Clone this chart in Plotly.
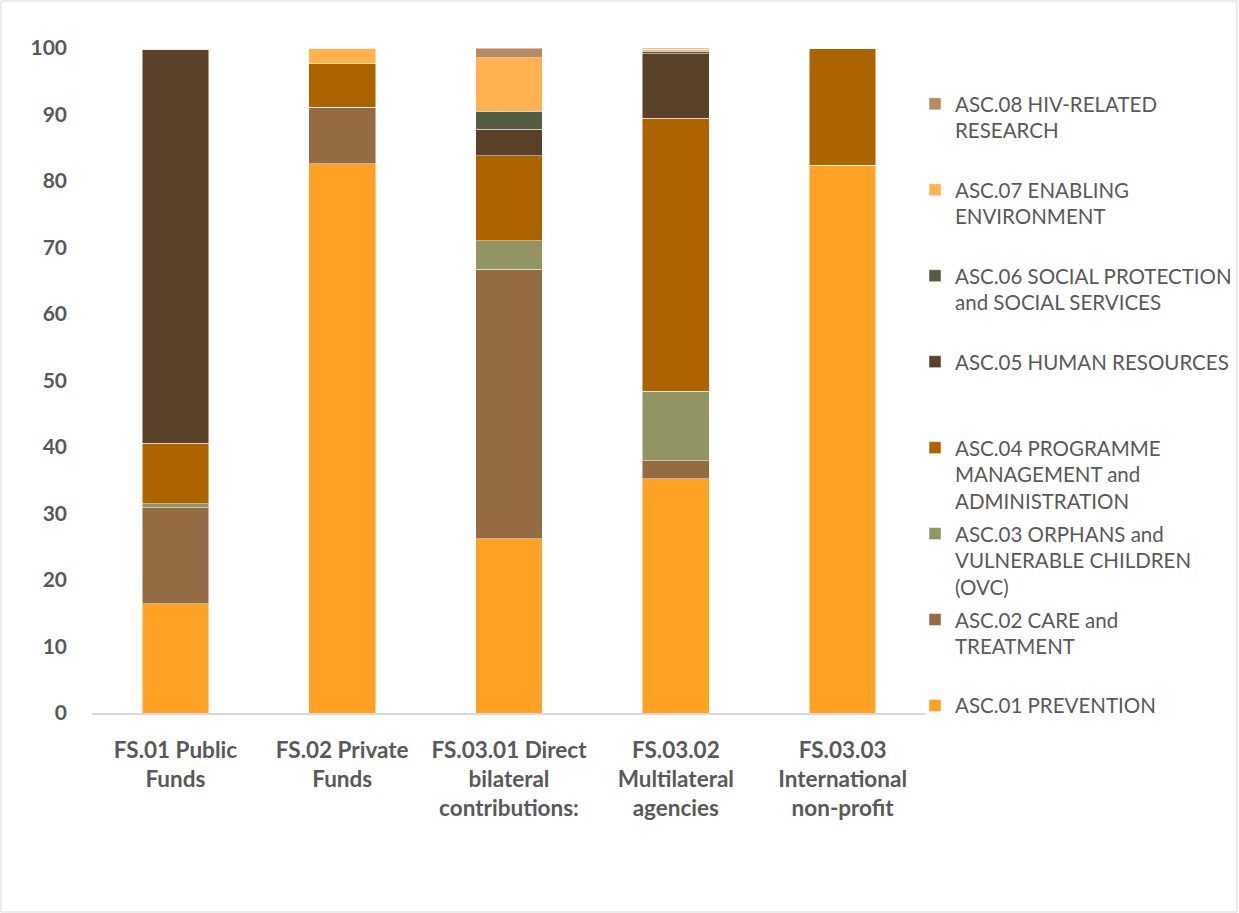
import plotly.graph_objects as go

categories = [
    "FS.01 Public<br>Funds",
    "FS.02 Private<br>Funds",
    "FS.03.01 Direct<br>bilateral<br>contributions:",
    "FS.03.02<br>Multilateral<br>agencies",
    "FS.03.03<br>International<br>non-profit",
]

series_names = [
    "ASC.01 PREVENTION",
    "ASC.02 CARE and<br>TREATMENT",
    "ASC.03 ORPHANS and<br>VULNERABLE CHILDREN<br>(OVC)",
    "ASC.04 PROGRAMME<br>MANAGEMENT and<br>ADMINISTRATION",
    "ASC.05 HUMAN RESOURCES",
    "ASC.06 SOCIAL PROTECTION<br>and SOCIAL SERVICES",
    "ASC.07 ENABLING<br>ENVIRONMENT",
    "ASC.08 HIV-RELATED<br>RESEARCH",
]

prevention = [16.4, 82.6, 26.2, 35.2, 82.4]
care_treatment = [14.5, 8.5, 40.5, 2.7, 0.0]
ovc = [0.6, 0.0, 4.3, 10.5, 0.0]
programme_mgmt = [9.1, 6.5, 12.8, 41.0, 17.6]
human_resources = [59.2, 0.0, 4.0, 9.7, 0.0]
social_protection = [0.0, 0.0, 2.7, 0.4, 0.0]
enabling_env = [0.2, 2.4, 8.0, 0.3, 0.0]
research = [0.0, 0.0, 1.5, 0.2, 0.0]

series_values = [prevention, care_treatment, ovc, programme_mgmt,
                 human_resources, social_protection, enabling_env, research]

colors = ["#FFA124", "#956B43", "#929466", "#AC6400",
          "#5A4129", "#565C40", "#FFB24F", "#B98A60"]

y_ticks = [0, 10, 20, 30, 40, 50, 60, 70, 80, 90, 100]

FONT = "Lato"
GREY = "#595959"

fig = go.Figure()
for i, (name, vals, col) in enumerate(zip(series_names, series_values, colors)):
    nlines = name.count("<br>") + 1
    padded = name + "<br> " * (3 - nlines)
    fig.add_trace(go.Bar(
        x=categories, y=vals, name=padded, legendgroup=f"g{i}",
        legendrank=1000 - i,
        marker=dict(color=col, line=dict(color="rgba(255,255,255,0.6)", width=0.8)),
        width=0.4,
    ))

W, H = 1239, 913
ml, mr, mt, mb = 92, 313, 48, 200
pw = W - ml - mr
ph = H - mt - mb

fig.update_layout(
    width=W, height=H,
    barmode="stack",
    paper_bgcolor="white", plot_bgcolor="white",
    margin=dict(l=ml, r=mr, t=mt, b=mb, autoexpand=False),
    font=dict(family=FONT, color=GREY, size=18),
    xaxis=dict(
        showline=True, linecolor="#D9D9D9", linewidth=1.5,
        ticks="", ticklabelstandoff=16,
        tickfont=dict(family=FONT, size=22.5, color=GREY, weight="bold"),
        showgrid=False,
    ),
    yaxis=dict(
        range=[0, 100], tickvals=y_ticks, showgrid=False, zeroline=False,
        showline=False, ticks="", ticklabelstandoff=24,
        tickfont=dict(family=FONT, size=21, color=GREY, weight="bold"),
    ),
    legend=dict(
        traceorder="grouped",
        x=(915 - ml) / pw, xanchor="left",
        y=(H - mb - 84) / ph, yanchor="top",
        valign="top",
        font=dict(family=FONT, size=20.5, color=GREY),
        itemwidth=30,
        tracegroupgap=3,
        maxheight=900,
        bgcolor="rgba(0,0,0,0)",
    ),
    shapes=[dict(
        type="rect", xref="paper", yref="paper",
        x0=(1 - ml) / pw, x1=(W - 2 - ml) / pw,
        y0=-(mb - 1) / ph, y1=1 + (mt - 1) / ph,
        line=dict(color="#D9D9D9", width=1), fillcolor="rgba(0,0,0,0)",
        layer="below",
    )],
)

fig.write_html("out.html", config={"displayModeBar": False},
               post_script="document.body.style.margin='0';")
